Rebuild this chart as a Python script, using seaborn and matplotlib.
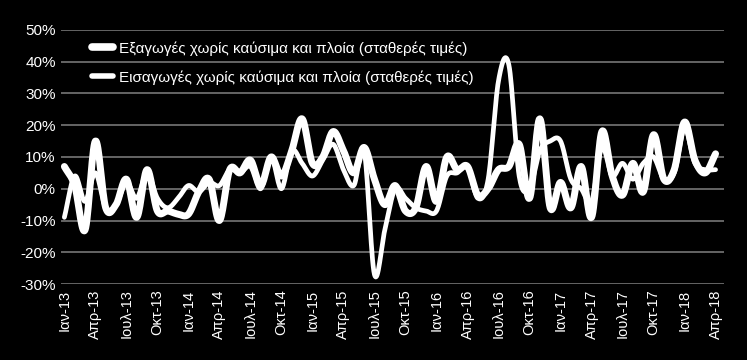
import numpy as np
import pandas as pd
import matplotlib
matplotlib.use("Agg")
import matplotlib.pyplot as plt
import seaborn as sns

# μηνιαία στοιχεία Ιαν-13 ... Απρ-18, ετήσια μεταβολή %
months = pd.date_range("2013-01-01", "2018-04-01", freq="MS")
month_names = {1: "Ιαν", 4: "Απρ", 7: "Ιουλ", 10: "Οκτ"}

exports = [7, 1, -13, 15, -6, -5, 3, -9, 6, -7, -7, -8,
           -8, -1, 3, -10, 6, 5, 9, 1, 10, 4, 12, 22,
           8, 10, 18, 12, 5, 13, 3, -5, 1, -7, -6, 7,
           -4, 10, 6, 7, -2, 0, 6, 7, 14, -3, 22, -6,
           2, -6, 7, -9, 18, 4, -2, 8, -1, 17, 3, 6,
           21, 9, 5, 11]
imports = [-9, 4, -4, 5, -6, -5, 2, -3, 5, -3, -6, -3,
           1, -1, 2, 1, 6, 5, 7, 0, 10, 0, 12, 8,
           4, 9, 14, 6, 1, 12, -27, -13, 0, -3, -6, -7,
           -7, 4, 5, 7, -3, 3, 34, 39, 4, 0, 12, 15,
           15, 3, 0, -4, 13, 4, 8, 3, 8, 10, 3, 5,
           19, 8, 6, 6]

label_exp = "Εξαγωγές χωρίς καύσιμα και πλοία (σταθερές τιμές)"
label_imp = "Εισαγωγές χωρίς καύσιμα και πλοία (σταθερές τιμές)"


def smooth(values, n=16):
    # καμπύλη τύπου Excel (Catmull-Rom) για τη σχεδίαση
    y = np.asarray(values, float)
    m = np.gradient(y)
    t = np.linspace(0, 1, n, endpoint=False)
    h00 = 2 * t**3 - 3 * t**2 + 1
    h10 = t**3 - 2 * t**2 + t
    h01 = -2 * t**3 + 3 * t**2
    h11 = t**3 - t**2
    xs, ys = [], []
    for i in range(len(y) - 1):
        xs.append(i + t)
        ys.append(h00 * y[i] + h10 * m[i] + h01 * y[i + 1] + h11 * m[i + 1])
    xs.append([len(y) - 1])
    ys.append([y[-1]])
    return pd.DataFrame({"x": np.concatenate(xs), "v": np.concatenate(ys)})


sns.set_theme(style="dark")
plt.rcParams["font.family"] = ["Liberation Sans", "DejaVu Sans"]

fig = plt.figure(figsize=(7.47, 3.6), dpi=100, facecolor="black")
ax = fig.add_axes([0.082, 0.211, 0.887, 0.706])
ax.set_facecolor("black")

for y in range(-30, 51, 10):
    ax.axhline(y, color="#808080", lw=1.1, zorder=0)

sns.lineplot(data=smooth(exports), x="x", y="v", color="white", lw=5.0,
             sort=False, estimator=None, ax=ax, label=label_exp)
sns.lineplot(data=smooth(imports), x="x", y="v", color="white", lw=3.4,
             sort=False, estimator=None, ax=ax, label=label_imp)

ax.set_xlim(-0.3, 63.8)
ax.set_ylim(-30, 50)
ax.set_yticks(range(-30, 51, 10))
ax.set_yticklabels([f"{v}%" for v in range(-30, 51, 10)], color="white", fontsize=11)

pos = [i for i, d in enumerate(months) if d.month in month_names]
ax.set_xticks(pos)
ax.set_xticklabels([f"{month_names[months[i].month]}-{months[i]:%y}" for i in pos],
                   rotation=90, color="white", fontsize=10.5)
ax.tick_params(length=0, pad=4)
ax.set_xlabel("")
ax.set_ylabel("")
ax.grid(False)
for s in ax.spines.values():
    s.set_visible(False)

leg = ax.legend(loc="upper left", bbox_to_anchor=(0.025, 1.01), frameon=False,
                fontsize=11, labelcolor="white", handlelength=1.4,
                handletextpad=0.4, labelspacing=0.95)
leg.get_lines()[0].set_linewidth(5.5)
leg.get_lines()[1].set_linewidth(4)

fig.savefig("out.png", dpi=100, facecolor="black")
